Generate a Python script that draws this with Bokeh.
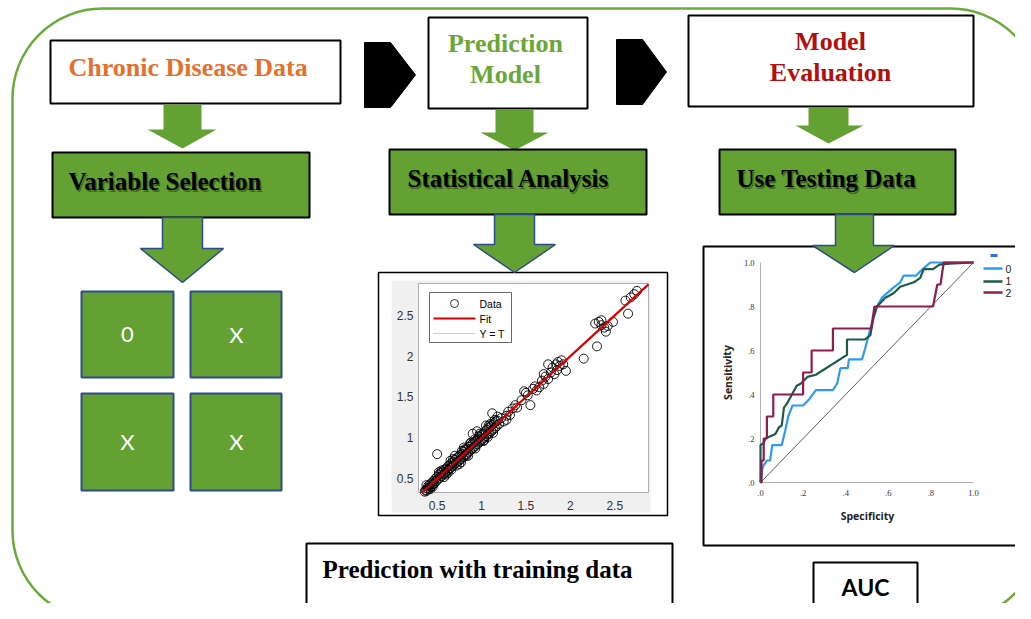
from bokeh.plotting import figure
from bokeh.models import Range1d, BoxAnnotation
from bokeh.core.properties import value
from bokeh.embed import file_html
from bokeh.resources import INLINE

# ---------------- data ----------------
top_titles = ["Chronic Disease Data", "Prediction", "Model", "Model", "Evaluation"]
step_titles = ["Variable Selection", "Statistical Analysis", "Use Testing Data"]
grid_labels = ["0", "X", "X", "X"]
bottom_labels = ["Prediction with training data", "AUC"]

# scatter (target vs output) of training prediction
sc_t = [0.36, 0.37, 0.38, 0.39, 0.40, 0.40, 0.41, 0.42, 0.43, 0.44, 0.45, 0.46, 0.47, 0.48, 0.49, 0.50, 0.50, 0.51,
        0.52, 0.53, 0.54, 0.55, 0.56, 0.57, 0.58, 0.59, 0.60, 0.61, 0.62, 0.63, 0.64, 0.65, 0.66, 0.67, 0.68, 0.69,
        0.70, 0.71, 0.72, 0.73, 0.74, 0.75, 0.76, 0.77, 0.78, 0.79, 0.80, 0.81, 0.82, 0.83, 0.84, 0.85, 0.86, 0.87,
        0.88, 0.89, 0.90, 0.91, 0.92, 0.93, 0.94, 0.95, 0.96, 0.97, 0.98, 0.99, 1.00, 1.01, 1.02, 1.03, 1.04, 1.05,
        1.06, 1.07, 1.08, 1.09, 1.10, 1.11, 1.12, 1.13, 1.14, 1.15, 1.16, 1.17, 1.18, 1.20, 1.22, 1.25, 0.70, 0.80,
        0.95, 1.05, 1.12, 0.90, 0.85, 0.75, 0.62, 0.45, 0.38, 0.42,
        0.55, 0.60, 0.65, 0.72, 0.78, 0.83, 0.88, 0.93, 0.98, 1.03, 1.08, 1.13, 1.18, 0.58, 0.68, 0.77, 0.87, 0.97,
        1.07, 1.15, 0.52, 0.66, 0.81, 0.92, 1.02, 1.10,
        1.28, 1.30, 1.32, 1.35, 1.38, 1.40, 1.28, 1.45, 1.50, 1.52, 1.55, 1.48, 1.58, 1.60, 1.62, 1.65, 1.68, 1.70,
        1.72, 1.75, 1.78, 1.80, 1.82, 1.84, 1.86, 1.88, 1.90, 1.92, 1.85, 1.95, 1.75, 1.70, 2.15,
        2.28, 2.30, 2.32, 2.35, 2.38, 2.40, 2.42, 2.48, 2.35, 2.62, 2.65, 2.68, 2.72, 2.75]
sc_y = [0.34, 0.36, 0.35, 0.38, 0.37, 0.41, 0.39, 0.43, 0.40, 0.45, 0.43, 0.47, 0.44, 0.50, 0.47, 0.52, 0.80, 0.49,
        0.55, 0.51, 0.57, 0.53, 0.58, 0.55, 0.61, 0.57, 0.62, 0.59, 0.65, 0.61, 0.66, 0.63, 0.69, 0.65, 0.70, 0.67,
        0.73, 0.69, 0.75, 0.71, 0.77, 0.72, 0.79, 0.74, 0.80, 0.76, 0.83, 0.78, 0.85, 0.80, 0.87, 0.82, 0.89, 0.84,
        0.91, 0.86, 0.93, 0.88, 0.95, 0.90, 0.97, 0.92, 0.99, 0.94, 1.01, 0.96, 1.04, 0.98, 1.05, 1.00, 1.08, 1.02,
        1.10, 1.04, 1.12, 1.06, 1.14, 1.08, 1.16, 1.10, 1.18, 1.12, 1.20, 1.14, 1.21, 1.17, 1.24, 1.20, 0.78, 0.88,
        1.08, 1.15, 1.30, 1.05, 0.78, 0.68, 0.57, 0.40, 0.42, 0.37,
        0.60, 0.55, 0.72, 0.66, 0.84, 0.78, 0.94, 0.87, 1.05, 0.97, 1.15, 1.06, 1.26, 0.52, 0.74, 0.70, 0.93, 1.02,
        1.01, 1.22, 0.58, 0.61, 0.86, 0.98, 0.96, 1.17,
        1.27, 1.32, 1.28, 1.36, 1.40, 1.37, 1.22, 1.46, 1.55, 1.52, 1.40, 1.57, 1.60, 1.63, 1.58, 1.62, 1.70, 1.66,
        1.75, 1.72, 1.80, 1.86, 1.78, 1.90, 1.93, 1.88, 1.95, 1.90, 1.83, 1.82, 1.90, 1.78, 1.97,
        2.40, 2.12, 2.42, 2.38, 2.35, 2.30, 2.37, 2.42, 2.44, 2.68, 2.52, 2.72, 2.76, 2.80]
sc_xticks = [0.5, 1, 1.5, 2, 2.5]
sc_yticks = [0.5, 1, 1.5, 2, 2.5]
sc_tick_labels = ["0.5", "1", "1.5", "2", "2.5"]
sc_legend = ["Data", "Fit", "Y = T"]

# ROC curves
roc_names = ["0", "1", "2"]
roc0_x = [0, 0.01, 0.01, 0.03, 0.045, 0.055, 0.1, 0.117, 0.13, 0.15, 0.2, 0.23, 0.26, 0.34, 0.36, 0.375, 0.41,
          0.415, 0.477, 0.5, 0.516, 0.547, 0.57, 0.617, 0.656, 0.672, 0.73, 0.75, 0.797, 1.0]
roc0_y = [0, 0.07, 0.07, 0.1, 0.1, 0.17, 0.17, 0.24, 0.3, 0.35, 0.35, 0.38, 0.42, 0.42, 0.45, 0.52, 0.52,
          0.56, 0.56, 0.64, 0.70, 0.80, 0.84, 0.88, 0.91, 0.94, 0.94, 0.96, 1.0, 1.0]
roc1_x = [0, 0, 0.015, 0.023, 0.07, 0.086, 0.1, 0.11, 0.125, 0.17, 0.19, 0.22, 0.26, 0.406, 0.406, 0.49, 0.516,
          0.53, 0.547, 0.586, 0.625, 0.656, 0.72, 0.75, 0.766, 0.81, 0.84, 0.89, 1.0]
roc1_y = [0, 0.17, 0.18, 0.2, 0.22, 0.25, 0.26, 0.34, 0.36, 0.44, 0.45, 0.48, 0.49, 0.58, 0.65, 0.65, 0.67,
          0.75, 0.80, 0.84, 0.86, 0.89, 0.91, 0.93, 0.97, 0.97, 0.99, 0.995, 1.0]
roc2_x = [0, 0.005, 0.005, 0.015, 0.015, 0.03, 0.03, 0.06, 0.06, 0.2, 0.2, 0.24, 0.24, 0.34, 0.34, 0.52, 0.535,
          0.81, 0.83, 0.845, 0.86, 1.0]
roc2_y = [0, 0, 0.1, 0.1, 0.2, 0.2, 0.3, 0.3, 0.4, 0.4, 0.5, 0.5, 0.6, 0.6, 0.7, 0.7, 0.8, 0.8, 0.9, 0.9, 1.0, 1.0]
roc_ticks = [0, 0.2, 0.4, 0.6, 0.8, 1.0]
roc_tick_labels = [".0", ".2", ".4", ".6", ".8", "1.0"]

# ---------------- styling ----------------
GREEN = "#63a132"
BORDER_GREEN = "#6aab3c"
ARROW_BLUE = "#2f4b8c"
SERIF = value("Liberation Serif")
SANS = value("Liberation Sans")

p = figure(width=1015, height=603, x_range=Range1d(0, 1015), y_range=Range1d(603, 0),
           output_backend="svg", toolbar_location=None, x_axis_location=None, y_axis_location=None,
           min_border=0, outline_line_color=None, background_fill_color="white")
p.grid.visible = False

# outer rounded frame
p.add_layout(BoxAnnotation(left=12, right=1040, top=8, bottom=620, border_radius=90,
                           fill_alpha=0, line_alpha=1, line_color=BORDER_GREEN, line_width=2.5, level="underlay"))


def down_arrow(x0, x1, top, neck, hx0, hx1, tip):
    xm = (x0 + x1) / 2
    return [x0, x1, x1, hx1, xm, hx0, x0, x0], [top, top, neck, neck, tip, neck, neck, top]


def pentagon(x0, xm, xt, top, bot):
    return [x0, xm, xt, xm, x0], [top, top, (top + bot) / 2, bot, bot]


def shadow_text(x, y, t, size, align="left"):
    p.text([x + 1.5], [y + 2], text=[t], text_font=SERIF, text_font_style="bold",
           text_font_size=size, text_color="black", text_alpha=0.35,
           text_align=align, text_baseline="middle")
    p.text([x], [y], text=[t], text_font=SERIF, text_font_style="bold",
           text_font_size=size, text_color="black", text_align=align, text_baseline="middle")


# top row boxes
p.quad(left=[50, 428, 688], right=[340, 587, 973], top=[40, 17, 15], bottom=[103, 108, 106],
       fill_color="white", line_color="black", line_width=2)
p.text([68], [67], text=[top_titles[0]], text_font=SERIF, text_font_style="bold", text_font_size="26px",
       text_color="#e3702c", text_align="left", text_baseline="middle")
p.text([505, 505], [43, 74], text=[top_titles[1], top_titles[2]], text_font=SERIF, text_font_style="bold",
       text_font_size="26px", text_color="#6aa63a", text_align="center", text_baseline="middle")
p.text([830, 830], [41, 72], text=[top_titles[3], top_titles[4]], text_font=SERIF, text_font_style="bold",
       text_font_size="26px", text_color="#b10f10", text_align="center", text_baseline="middle")

# black chevrons
c1 = pentagon(364, 390, 415, 42, 107)
c2 = pentagon(616, 642, 666, 39, 104)
p.patches([c1[0], c2[0]], [c1[1], c2[1]], fill_color="black", line_color="black")

# green arrows below top boxes
a1 = down_arrow(163, 201, 104, 129, 147, 216, 148)
a2 = down_arrow(495, 533, 109, 132, 480, 548, 150)
a3 = down_arrow(808, 848, 107, 125, 795, 863, 143)
p.patches([a1[0], a2[0], a3[0]], [a1[1], a2[1], a3[1]], fill_color=GREEN, line_color=None)

# step boxes
p.quad(left=[52, 389, 719], right=[309, 646, 955], top=[152, 149, 149], bottom=[217, 214, 214],
       fill_color=GREEN, line_color="black", line_width=2)
shadow_text(68, 181, step_titles[0], "25px")
shadow_text(407, 178, step_titles[1], "25px")
shadow_text(736, 178, step_titles[2], "25px")

# scatter inset box
p.quad(left=[378], right=[667], top=[272], bottom=[515], fill_color="white", line_color="black", line_width=1.5)
p.quad(left=[391], right=[650], top=[280], bottom=[512], fill_color="#f0f0f0", line_color=None)
p.quad(left=[418], right=[648], top=[283], bottom=[492], fill_color="white", line_color="#9a9a9a", line_width=0.8)

sp = p.subplot(x_source=Range1d(0.29, 2.88), y_source=Range1d(0.33, 2.89),
               x_target=Range1d(418, 648), y_target=Range1d(492, 283))
sp.line([0.33, 2.88], [0.33, 2.88], line_color="#999999", line_dash="1 1", line_width=1)
sp.scatter(sc_t, sc_y, marker="circle", size=9, fill_alpha=0, line_color="black", line_width=0.9)
sp.line([0.33, 2.88], [0.33, 2.88], line_color="#d60000", line_width=2.2)
sp.text([0.29] * 5, sc_yticks, text=sc_tick_labels, text_font=SANS, text_font_size="12px",
        text_color="#333333", text_align="right", text_baseline="middle", x_offset=-5)
sp.text(sc_xticks, [0.33] * 5, text=sc_tick_labels, text_font=SANS, text_font_size="12px",
        text_color="#333333", text_align="center", text_baseline="middle", y_offset=13)

# scatter legend
p.quad(left=[429], right=[511], top=[292], bottom=[342], fill_color="white", line_color="#444444", line_width=0.8)
p.scatter([454], [303], marker="circle", size=8, fill_alpha=0, line_color="black", line_width=0.8)
p.line([433, 475], [318, 318], line_color="#d60000", line_width=2.2)
p.line([433, 475], [333, 333], line_color="#999999", line_dash="1 1", line_width=1)
p.text([479, 479, 479], [303, 318, 333], text=sc_legend, text_font=SANS, text_font_size="10.5px",
       text_color="black", text_align="left", text_baseline="middle")

# ROC inset box
p.quad(left=[703], right=[1035], top=[246], bottom=[545], fill_color="white", line_color="black", line_width=2)
rp = p.subplot(x_source=Range1d(0, 1), y_source=Range1d(0, 1),
               x_target=Range1d(760, 973), y_target=Range1d(482, 262))
rp.line([0, 0], [0, 1], line_color="#b0b0b0", line_width=1)
rp.line([0, 1], [0, 0], line_color="#b0b0b0", line_width=1)
rp.line([0, 1], [0, 1], line_color="#333333", line_width=0.8)
rp.line(roc0_x, roc0_y, line_color="#2f9bf0", line_width=2.2)
rp.line(roc1_x, roc1_y, line_color="#1d5a47", line_width=2.2)
rp.line(roc2_x, roc2_y, line_color="#8e1d4e", line_width=2.2)
rp.text([0] * 6, roc_ticks, text=roc_tick_labels, text_font=SERIF, text_font_size="8.5px",
        text_color="#333333", text_align="right", text_baseline="middle", x_offset=-6)
rp.text(roc_ticks, [0] * 6, text=roc_tick_labels, text_font=SERIF, text_font_size="8.5px",
        text_color="#333333", text_align="center", text_baseline="middle", y_offset=10)
p.text([727], [372], text=["Sensitivity"], angle=1.5708, text_font=value("Open Sans"), text_font_style="bold",
       text_font_size="10.5px", text_color="#222222", text_align="center", text_baseline="middle")
p.text([867], [515], text=["Specificity"], text_font=value("Open Sans"), text_font_style="bold",
       text_font_size="10.5px", text_color="#222222", text_align="center", text_baseline="middle")

# ROC legend
p.line([990, 997], [255, 255], line_color="#2f6df0", line_width=3)
p.multi_line([[983, 1002], [983, 1002], [983, 1002]], [[268, 268], [281, 281], [292, 292]],
             line_color=["#2f9bf0", "#1d5a47", "#8e1d4e"], line_width=2.5)
p.text([1005, 1005, 1005], [268, 280, 292], text=roc_names, text_font=SANS, text_font_size="10.5px",
       text_color="#222222", text_align="left", text_baseline="middle")

# outlined green arrows
b1 = down_arrow(162, 202, 217, 248, 140, 223, 282)
b2 = down_arrow(494, 534, 214, 244, 473, 555, 272)
b3 = down_arrow(835, 873, 214, 245, 812, 894, 272)
p.patches([b1[0], b2[0], b3[0]], [b1[1], b2[1], b3[1]], fill_color=GREEN, line_color=ARROW_BLUE, line_width=1.5)

# 2x2 variable grid
gx = [127, 236, 127, 236]
gy = [334, 334, 441, 441]
p.quad(left=[81, 190, 81, 190], right=[173, 281, 173, 281], top=[291, 291, 393, 393],
       bottom=[377, 377, 490, 490], fill_color=GREEN, line_color=ARROW_BLUE, line_width=2)
p.text(gx, gy, text=grid_labels, text_font=value("Lato"), text_font_size="22px", text_color="white",
       text_align="center", text_baseline="middle")

# bottom label boxes
p.quad(left=[306, 813], right=[672, 917], top=[543, 562], bottom=[608, 611],
       fill_color="white", line_color="black", line_width=2)
p.text([322], [569], text=[bottom_labels[0]], text_font=SERIF, text_font_style="bold", text_font_size="25px",
       text_color="black", text_align="left", text_baseline="middle")
p.text([865], [586], text=[bottom_labels[1]], text_font=value("Lato"), text_font_style="bold",
       text_font_size="23px", text_color="black", text_align="center", text_baseline="middle")

open("out.html", "w").write(file_html(p, INLINE))
